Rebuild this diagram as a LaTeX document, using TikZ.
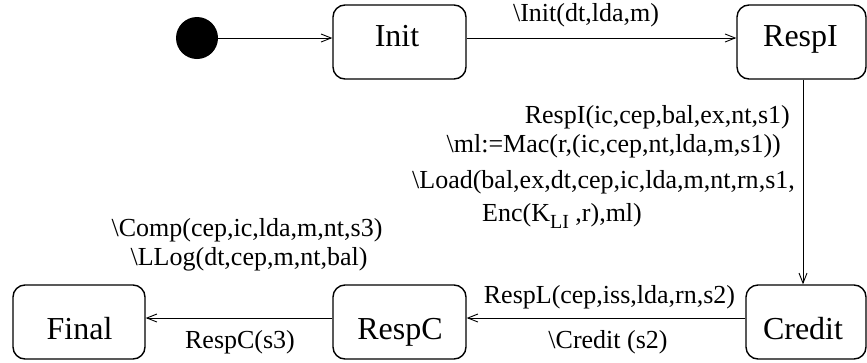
\documentclass[tikz,border=0pt]{standalone}
\usepackage{fontspec}
\setmainfont{Liberation Serif}
\newfontfamily\tms{Liberation Serif}
\usetikzlibrary{arrows.meta}
\tikzset{
  statebox/.style={draw, line width=1.4pt, rounded corners=12pt, inner sep=0pt, minimum height=74pt},
  boxtext/.style={anchor=base, inner sep=0pt, font=\tms\fontsize{32pt}{36pt}\selectfont},
  lbl/.style={inner sep=0pt, font=\tms\fontsize{26pt}{30pt}\selectfont},
  conn/.style={line width=0.9pt, -{Straight Barb[length=10pt,width=8pt,line width=0.9pt]}}
}
\begin{document}
\begin{tikzpicture}[x=1pt,y=-1pt]
\useasboundingbox (0,0) rectangle (867,362);
% start
\node[circle, fill=black, minimum size=42pt, inner sep=0pt] (start) at (197,38) {};
% states
\node[statebox, minimum width=133pt] (init) at (399.5,42) {};
\node[boxtext] (initT) at (397,46) {Init};
\node[statebox, minimum width=129pt] (respi) at (801.5,42) {};
\node[boxtext] (respiT) at (800.5,46) {RespI};
\node[statebox, minimum width=120pt] (credit) at (806,322) {};
\node[boxtext] (creditT) at (803,339) {Credit};
\node[statebox, minimum width=133pt] (respc) at (399.5,322) {};
\node[boxtext] (respcT) at (400,339) {RespC};
\node[statebox, minimum width=132pt] (final) at (79,322) {};
\node[boxtext] (finalT) at (79.5,339) {Final};
% helper coordinates
\coordinate (vx) at (803,0);
\coordinate (hy) at (0,318);
% connectors
\draw[conn] (start.east) -- (start -| init.west);
\draw[conn] (init.east |- start) -- (respi.west |- start);
\draw[conn] (respi.south -| vx) -- (credit.north -| vx);
\draw[conn] (credit.west |- hy) -- (respc.east |- hy);
\draw[conn] (respc.west |- hy) -- (final.east |- hy);
% labels
\node[lbl, anchor=base] (l1) at (586,21) {\textbackslash Init(dt,lda,m)};
\node[lbl, anchor=base east] (l2) at (790,123) {RespI(ic,cep,bal,ex,nt,s1)};
\node[lbl, anchor=base east] (l3) at (781,152) {\textbackslash ml:=Mac(r,(ic,cep,nt,lda,m,s1))};
\node[lbl, anchor=base east] (l4) at (795,188) {\textbackslash Load(bal,ex,dt,cep,ic,lda,m,nt,rn,s1,};
\node[lbl, anchor=base west] (l5) at (482,221) {Enc(K\raisebox{-7pt}{\fontsize{20pt}{22pt}\selectfont LI} ,r),ml)};
\node[lbl, anchor=base] (l6) at (247,236) {\textbackslash Comp(cep,ic,lda,m,nt,s3)};
\node[lbl, anchor=base] (l7) at (249,265) {\textbackslash LLog(dt,cep,m,nt,bal)};
\node[lbl, anchor=base] (l8) at (609.5,303) {RespL(cep,iss,lda,rn,s2)};
\node[lbl, anchor=base] (l9) at (608,348) {\textbackslash Credit (s2)};
\node[lbl, anchor=base] (l10) at (240,348) {RespC(s3)};
\end{tikzpicture}
\end{document}
